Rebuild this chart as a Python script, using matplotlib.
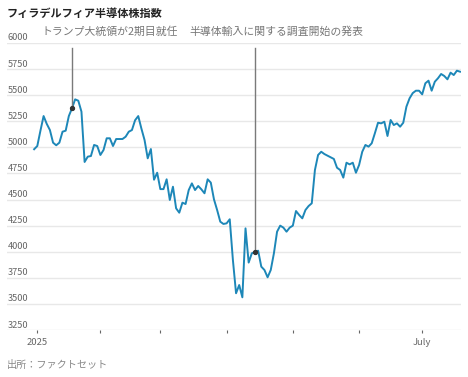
import matplotlib
matplotlib.use("Agg")
import matplotlib.pyplot as plt
import matplotlib.transforms as mtransforms
import pandas as pd

plt.rcParams['font.family'] = ['Noto Sans CJK JP', 'DejaVu Sans']

# ---- data ----
start_date = "2024-12-31"
end_date = "2025-07-18"
market_holidays = ["2025-01-01", "2025-01-09", "2025-01-20", "2025-02-17",
                   "2025-04-18", "2025-05-26", "2025-06-19", "2025-07-04"]

sox_values = [
    4982, 5013, 5160, 5300, 5225, 5166, 5045, 5020, 5045, 5150,
    5160, 5300, 5374, 5460, 5447, 5342, 4860, 4911, 4917, 5023,
    5013, 4927, 4975, 5087, 5087, 5013, 5080, 5080, 5080, 5102,
    5150, 5166, 5260, 5300, 5180, 5070, 4895, 4984, 4690, 4757,
    4600, 4600, 4694, 4496, 4623, 4416, 4374, 4470, 4457, 4591,
    4655, 4591, 4630, 4598, 4560, 4694, 4662, 4502, 4400, 4288,
    4266, 4272, 4311, 3921, 3602, 3681, 3563, 4224, 3896, 3985,
    3997, 4010, 3857, 3825, 3755, 3825, 3985, 4192, 4250, 4231,
    4192, 4231, 4250, 4390, 4352, 4320, 4400, 4438, 4464, 4783,
    4927, 4958, 4936, 4920, 4905, 4889, 4805, 4783, 4710, 4853,
    4837, 4853, 4757, 4831, 4958, 5023, 5007, 5039, 5135, 5236,
    5230, 5246, 5109, 5262, 5214, 5230, 5198, 5236, 5390, 5470,
    5520, 5543, 5543, 5508, 5614, 5639, 5543, 5629, 5662, 5703,
    5684, 5652, 5716, 5693, 5735, 5725,
]

y_ticks = [3250, 3500, 3750, 4000, 4250, 4500, 4750, 5000, 5250, 5500, 5750, 6000]
month_labels = {1: "2025", 7: "July"}

event_dates = ["2025-01-21", "2025-04-14"]
event_labels = ["トランプ大統領が2期目就任", "半導体輸入に関する調査開始の発表"]

title = "フィラデルフィア半導体株指数"
source = "出所：ファクトセット"

# ---- build ----
dates = pd.bdate_range(start_date, end_date, freq="C", holidays=market_holidays)
n = min(len(dates), len(sox_values))
dates = dates[:n]
vals = sox_values[:n]
xs = list(range(n))

W, H = 468, 377
fig = plt.figure(figsize=(W / 100, H / 100), dpi=100)
ax = fig.add_axes([7 / W, 47 / H, 454 / W, 287 / H])

ax.set_xlim(-8.6, 135.3)
ax.set_ylim(3250, 6000)

ax.set_yticks(y_ticks)
ax.yaxis.grid(True, color="#e8e8e8", lw=1)
ax.set_axisbelow(True)
ax.tick_params(axis="y", length=0, labelleft=False)
for s in ax.spines.values():
    s.set_visible(False)

trans = mtransforms.blended_transform_factory(fig.transFigure, ax.transData)
off = mtransforms.ScaledTranslation(0, 2.5 / 100, fig.dpi_scale_trans)
for v in y_ticks:
    ax.text(8 / W, v, str(v), transform=trans + off, ha="left", va="baseline",
            fontsize=6.6, color="#666666", clip_on=False)

# x ticks: first trading day of each month
tick_pos, tick_lab = [], []
seen = set()
for i, d in enumerate(dates):
    if d.month not in seen:
        seen.add(d.month)
        if d.year == 2025:
            tick_pos.append(i)
            tick_lab.append(month_labels.get(d.month, ""))
ax.set_xticks(tick_pos)
ax.set_xticklabels(tick_lab)
ax.tick_params(axis="x", length=2, width=0.8, color="#666666", labelsize=6.8,
               labelcolor="#666666", pad=4)

ax.plot(xs, vals, color="#1d87b8", lw=1.4, solid_joinstyle="round", zorder=3)

# events
for ed in event_dates:
    i = dates.get_loc(pd.Timestamp(ed))
    ax.plot([i, i], [vals[i], 5955], color="#7a7a7a", lw=1.0, zorder=4)
    ax.plot([i], [vals[i]], "o", ms=2.8, color="#333333", zorder=5)

fig.text(41 / W, 1 - 31.7 / H, event_labels[0], fontsize=7.8, color="#777777",
         ha="left", va="center")
fig.text(189 / W, 1 - 31.7 / H, event_labels[1], fontsize=7.8, color="#777777",
         ha="left", va="center")

fig.text(7 / W, 1 - 13.5 / H, title, fontsize=8, fontweight="bold",
         color="#222222", ha="left", va="center")
fig.text(7 / W, 1 - 365 / H, source, fontsize=7.3, color="#888888",
         ha="left", va="center")

fig.savefig("out.png", dpi=100)
